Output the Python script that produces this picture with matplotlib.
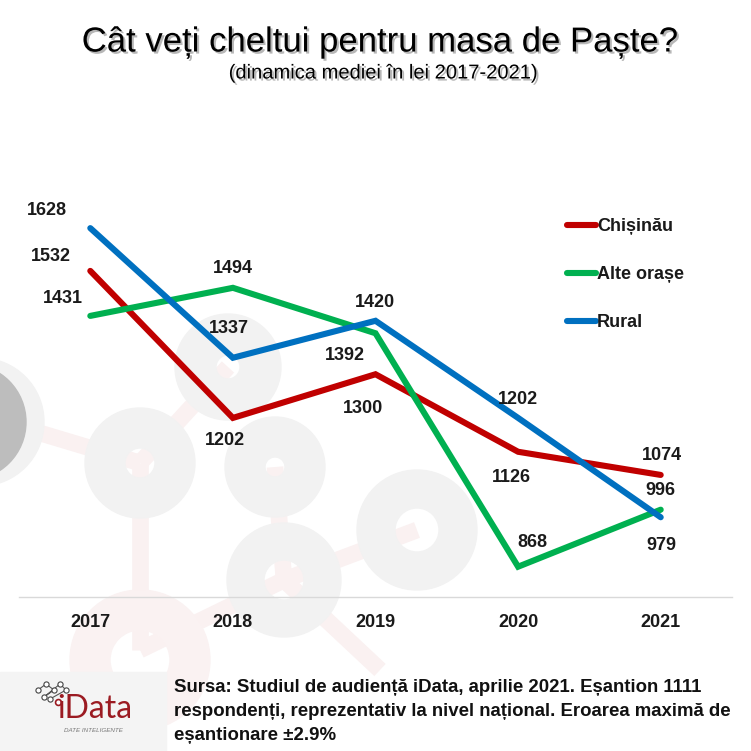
import numpy as np
import matplotlib
matplotlib.use("Agg")
import matplotlib.pyplot as plt
import matplotlib.patheffects as pe
from matplotlib.patches import Wedge, Circle, Rectangle

# Data
years = ["2017", "2018", "2019", "2020", "2021"]
chisinau = [1532, 1202, 1300, 1126, 1074]
alte_orase = [1431, 1494, 1392, 868, 996]
rural = [1628, 1337, 1420, 1202, 979]
series_names = ["Chișinău", "Alte orașe", "Rural"]

title = "Cât veți cheltui pentru masa de Paște?"
subtitle = "(dinamica mediei în lei 2017-2021)"
source_lines = [
    "Sursa: Studiul de audiență iData, aprilie 2021. Eșantion 1111",
    "respondenți, reprezentativ la nivel național. Eroarea maximă de",
    "eșantionare ±2.9%",
]

# Label offsets in pixels (dx, dy, y downwards)
label_offsets = [
    [(-39, -14), (-8, 23), (-13, 34), (-7, 26), (1, -19)],
    [(-27, -17), (0, -19), (-31, 22), (14, -24), (0, -19)],
    [(-43, -18), (-4, -29), (-1, -18), (0, -18), (1, 28)],
]
colors = ["#c00000", "#00b050", "#0070c0"]

W = 751
FONT = ["Liberation Sans", "DejaVu Sans"]
plt.rcParams["font.family"] = FONT

fig = plt.figure(figsize=(7.51, 7.51), dpi=100)
fig.patch.set_facecolor("white")

# Background watermark (pixel coordinates)
bg = fig.add_axes([0, 0, 1, 1], zorder=0)
bg.set_xlim(0, W)
bg.set_ylim(W, 0)
bg.axis("off")

pink = "#faf1f1"
grey = "#f2f2f2"
connectors = [
    ((30, 430), (140, 463)),
    ((140, 463), (228, 367)),
    ((140, 463), (140, 650)),
    ((275, 467), (284, 580)),
    ((284, 580), (417, 530)),
    ((284, 580), (380, 670)),
    ((140, 650), (284, 580)),
]
for (x0, y0), (x1, y1) in connectors:
    bg.plot([x0, x1], [y0, y1], color=pink, lw=12, solid_capstyle="butt", zorder=0)

rings = [
    ((-20, 422), 64, 0, grey),
    ((228, 367), 53, 12, grey),
    ((140, 463), 55, 15, grey),
    ((275, 467), 50, 10, grey),
    ((417, 530), 60, 22, grey),
    ((284, 580), 57, 20, grey),
    ((140, 660), 70, 30, "#faf2f2"),
]
for c, r, h, col in rings:
    bg.add_patch(Wedge(c, r, 0, 360, width=r - h, color=col, zorder=1))
bg.add_patch(Circle((-32, 422), 58, color="#bdbdbd", zorder=2))

# Logo box
bg.add_patch(Rectangle((0, 672), 166, 80, color="#f4f4f4", zorder=3))
fig.text(95 / W, 1 - 709 / W, "iData", color="#9b1b22", fontsize=23,
         family=["Lato", "DejaVu Sans"], ha="center", va="center", zorder=5)
fig.text(93 / W, 1 - 731 / W, "DATE INTELIGENTE", color="#777777", fontsize=4.5,
         style="italic", ha="center", va="center", zorder=5)
mol_x = [38, 46, 54, 44, 60, 66, 50]
mol_y = [690, 684, 690, 697, 684, 690, 699]
bg.plot(mol_x, mol_y, color="#555555", lw=0.8, zorder=4)
bg.scatter(mol_x, mol_y, s=14, facecolor="white", edgecolor="#444444", lw=0.8, zorder=5)
bg.scatter([58], [702], s=18, facecolor="white", edgecolor="#9b1b22", lw=1.2, zorder=5)

# Main chart
ax = fig.add_axes([19 / W, (W - 597) / W, 713 / W, (597 - 151.5) / W], zorder=2)
ax.patch.set_alpha(0)
x = np.arange(len(years))
for vals, name, col, offs in zip([chisinau, alte_orase, rural], series_names, colors, label_offsets):
    ax.plot(x, vals, color=col, lw=4.4, solid_capstyle="round", solid_joinstyle="miter",
            label=name)
    for xi, v, (dx, dy) in zip(x, vals, offs):
        ax.annotate(str(v), (xi, v), xytext=(dx, -dy), textcoords="offset pixels",
                    ha="center", va="center", fontsize=13, fontweight="bold", color="#1a1a1a")

ax.set_xlim(-0.5, 4.5)
ax.set_ylim(800, 1800)
ax.set_xticks(x)
ax.set_xticklabels(years, fontsize=13, fontweight="bold", color="#1a1a1a")
ax.set_yticks([])
ax.tick_params(axis="x", length=0, pad=12)
for s in ["top", "right", "left"]:
    ax.spines[s].set_visible(False)
ax.spines["bottom"].set_color("#d9d9d9")
ax.spines["bottom"].set_linewidth(1)

leg = fig.legend(loc="upper left", bbox_to_anchor=(567 / W, 1 - 218 / W), frameon=False,
                 borderaxespad=0, borderpad=0, handlelength=1.6, handletextpad=0.05,
                 labelspacing=1.72, prop={"size": 13, "weight": "bold"})
for t in leg.get_texts():
    t.set_color("#1a1a1a")

# Titles
shadow = [pe.SimplePatchShadow(offset=(1.5, -1.5), shadow_rgbFace="#888888", alpha=0.6), pe.Normal()]
fig.text(380 / W, 1 - 42 / W, title, fontsize=25, ha="center", va="center",
         color="black", path_effects=shadow)
fig.text(383 / W, 1 - 73 / W, subtitle, fontsize=14.5, ha="center", va="center",
         color="black", path_effects=shadow)

# Source
for i, line in enumerate(source_lines):
    fig.text(174 / W, 1 - (688 + 23.5 * i) / W, line, fontsize=13.4, fontweight="bold",
             ha="left", va="center", color="#111111")

fig.savefig("out.png", dpi=100)
